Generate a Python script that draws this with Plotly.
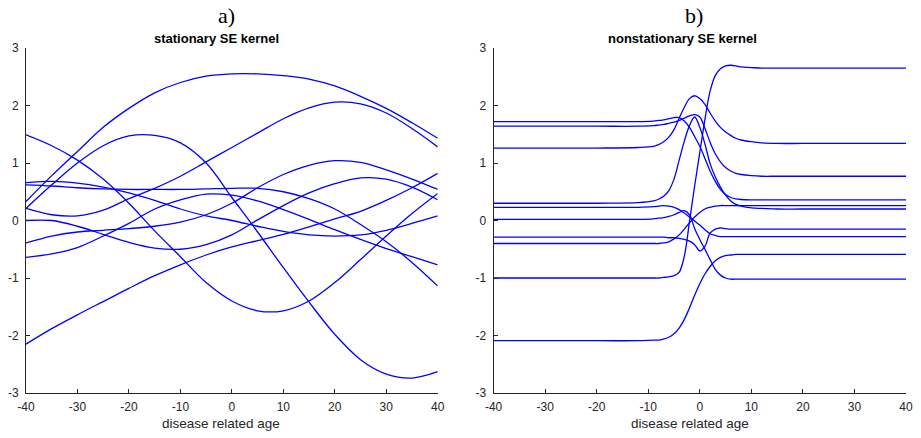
import plotly.graph_objects as go

# ---------------- data ----------------
x_left = [-40, -35, -30, -25, -20, -15, -10, -5, 0, 5, 10, 15, 20, 25, 30, 35, 40]
stationary_samples = [
    [0.33, 0.78, 1.2, 1.62, 1.95, 2.22, 2.4, 2.51, 2.55, 2.55, 2.52, 2.46, 2.34, 2.16, 1.95, 1.7, 1.43],
    [0.21, 0.62, 1.0, 1.3, 1.47, 1.48, 1.35, 1.0, 0.4, -0.2, -0.82, -1.42, -1.98, -2.42, -2.67, -2.74, -2.63],
    [0.21, 0.1, 0.08, 0.18, 0.38, 0.56, 0.77, 1.02, 1.27, 1.52, 1.77, 1.96, 2.06, 2.03, 1.87, 1.6, 1.28],
    [1.49, 1.3, 1.05, 0.72, 0.3, -0.18, -0.63, -1.08, -1.4, -1.57, -1.57, -1.4, -1.08, -0.68, -0.27, 0.12, 0.47],
    [0.62, 0.6, 0.57, 0.55, 0.54, 0.54, 0.54, 0.55, 0.56, 0.56, 0.5, 0.38, 0.2, -0.07, -0.37, -0.73, -1.14],
    [0.66, 0.68, 0.65, 0.58, 0.48, 0.35, 0.2, 0.08, 0.0, -0.1, -0.19, -0.25, -0.27, -0.25, -0.17, -0.05, 0.08],
    [0.0, 0.0, -0.1, -0.24, -0.38, -0.48, -0.5, -0.42, -0.25, 0.01, 0.26, 0.48, 0.64, 0.74, 0.72, 0.58, 0.36],
    [-0.39, -0.27, -0.2, -0.17, -0.14, -0.1, -0.03, 0.1, 0.3, 0.57, 0.8, 0.96, 1.04, 1.01, 0.88, 0.72, 0.54],
    [-0.64, -0.58, -0.47, -0.27, -0.05, 0.2, 0.36, 0.46, 0.44, 0.34, 0.19, 0.02, -0.16, -0.33, -0.49, -0.63, -0.77],
    [-2.15, -1.88, -1.64, -1.41, -1.18, -0.96, -0.77, -0.6, -0.46, -0.35, -0.24, -0.11, 0.03, 0.16, 0.35, 0.57, 0.82],
]

x_right = [-40, -20, -12, -9, -8, -7, -6, -5, -4, -3, -2, -1, 0, 1, 2, 3, 4, 5, 6, 7, 8, 10, 12, 15, 20, 40]
nonstationary_samples = [
    [1.72, 1.72, 1.72, 1.73, 1.74, 1.75, 1.77, 1.79, 1.79, 1.73, 1.62, 1.46, 1.29, 1.08, 0.86, 0.68, 0.54, 0.45, 0.4, 0.375, 0.365, 0.36, 0.36, 0.36, 0.36, 0.36],
    [1.64, 1.64, 1.64, 1.65, 1.66, 1.67, 1.69, 1.71, 1.74, 1.78, 1.82, 1.84, 1.8, 1.6, 1.36, 1.16, 1.02, 0.92, 0.86, 0.82, 0.8, 0.78, 0.77, 0.77, 0.77, 0.77],
    [1.26, 1.26, 1.27, 1.29, 1.32, 1.37, 1.45, 1.58, 1.78, 1.97, 2.12, 2.17, 2.12, 2.02, 1.87, 1.73, 1.62, 1.54, 1.48, 1.43, 1.4, 1.37, 1.35, 1.34, 1.34, 1.34],
    [0.30, 0.30, 0.31, 0.34, 0.37, 0.42, 0.52, 0.72, 1.05, 1.38, 1.65, 1.8, 1.62, 1.33, 0.99, 0.76, 0.58, 0.44, 0.34, 0.28, 0.25, 0.22, 0.21, 0.2, 0.2, 0.2],
    [0.23, 0.23, 0.23, 0.24, 0.25, 0.26, 0.25, 0.23, 0.19, 0.13, 0.06, -0.01, -0.08, -0.16, -0.23, -0.26, -0.28, -0.28, -0.28, -0.28, -0.28, -0.28, -0.28, -0.28, -0.28, -0.28],
    [0.02, 0.02, 0.02, 0.03, 0.04, 0.05, 0.07, 0.1, 0.14, 0.17, 0.1, -0.14, -0.33, -0.5, -0.68, -0.85, -0.95, -1.0, -1.02, -1.02, -1.02, -1.02, -1.02, -1.02, -1.02, -1.02],
    [-0.29, -0.29, -0.29, -0.29, -0.29, -0.29, -0.3, -0.3, -0.31, -0.33, -0.36, -0.42, -0.53, -0.45, -0.22, -0.15, -0.13, -0.14, -0.15, -0.15, -0.15, -0.15, -0.15, -0.15, -0.15, -0.15],
    [-0.40, -0.40, -0.40, -0.40, -0.40, -0.39, -0.37, -0.32, -0.25, -0.15, -0.04, 0.06, 0.14, 0.2, 0.23, 0.25, 0.26, 0.26, 0.26, 0.26, 0.26, 0.26, 0.26, 0.26, 0.26, 0.26],
    [-1.0, -1.0, -1.0, -1.0, -1.0, -0.99, -0.98, -0.96, -0.9, -0.62, -0.02, 0.6, 1.18, 1.76, 2.25, 2.52, 2.64, 2.69, 2.7, 2.69, 2.67, 2.66, 2.65, 2.65, 2.65, 2.65],
    [-2.09, -2.09, -2.09, -2.08, -2.08, -2.06, -2.03, -1.97, -1.87, -1.72, -1.52, -1.3, -1.1, -0.93, -0.8, -0.7, -0.64, -0.61, -0.6, -0.59, -0.59, -0.59, -0.59, -0.59, -0.59, -0.59],
]

x_ticks = [-40, -30, -20, -10, 0, 10, 20, 30, 40]
x_ticklabels = ["-40", "-30", "-20", "-10", "0", "10", "20", "30", "40"]
y_ticks = [-3, -2, -1, 0, 1, 2, 3]
y_ticklabels = ["-3", "-2", "-1", "0", "1", "2", "3"]

panel_letters = ["a)", "b)"]
panel_titles = ["stationary SE kernel", "nonstationary SE kernel"]
x_label = "disease related age"

# ---------------- figure ----------------
W, H = 921, 438
ML, MR, MT, MB = 26, 8, 48, 45
plot_w = W - ML - MR
plot_h = H - MT - MB

def px_x(p):
    return (p - ML) / plot_w

def px_y(p):
    return (H - MB - p) / plot_h

dom1 = [0.0, px_x(441)]
dom2 = [px_x(497.3), 1.0]

fig = go.Figure()
line_style = dict(color="#0000FF", width=1.3, shape="spline", smoothing=1.0)

for ys in stationary_samples:
    fig.add_trace(go.Scatter(x=x_left, y=ys, mode="lines", line=line_style,
                             xaxis="x", yaxis="y", showlegend=False, hoverinfo="skip"))
for ys in nonstationary_samples:
    fig.add_trace(go.Scatter(x=x_right, y=ys, mode="lines", line=line_style,
                             xaxis="x2", yaxis="y2", showlegend=False, hoverinfo="skip"))

tickfont = dict(family="Liberation Sans, Arial, sans-serif", size=12, color="#262626")
common_x = dict(range=[-40, 40], tickmode="array", tickvals=x_ticks, ticktext=x_ticklabels,
                ticks="inside", ticklen=4, tickwidth=1, tickcolor="#262626",
                showline=True, linecolor="#262626", linewidth=1, showgrid=False,
                zeroline=False, tickfont=tickfont, ticklabelstandoff=3, mirror=False)
common_y = dict(range=[-3, 3], tickmode="array", tickvals=y_ticks, ticktext=y_ticklabels,
                ticks="inside", ticklen=4, tickwidth=1, tickcolor="#262626",
                showline=True, linecolor="#262626", linewidth=1, showgrid=False,
                zeroline=False, tickfont=tickfont, ticklabelstandoff=4, mirror=False)

fig.update_layout(
    width=W, height=H,
    margin=dict(l=ML, r=MR, t=MT, b=MB, pad=0),
    paper_bgcolor="white", plot_bgcolor="white",
    xaxis=dict(domain=dom1, anchor="y", **common_x),
    yaxis=dict(domain=[0, 1], anchor="x", **common_y),
    xaxis2=dict(domain=dom2, anchor="y2", **common_x),
    yaxis2=dict(domain=[0, 1], anchor="x2", **common_y),
)

letter_pos = [228.5, 699]
title_pos = [218.5, 688]
xlabel_pos = [223, 695.5]
annotations = []
for i in range(2):
    annotations.append(dict(text=panel_letters[i], x=px_x(letter_pos[i]), y=px_y(16),
                            xref="paper", yref="paper", xanchor="center", yanchor="middle",
                            showarrow=False,
                            font=dict(family="Liberation Serif, Times New Roman, serif", size=22, color="#000000")))
    annotations.append(dict(text="<b>" + panel_titles[i] + "</b>", x=px_x(title_pos[i]), y=px_y(38),
                            xref="paper", yref="paper", xanchor="center", yanchor="middle",
                            showarrow=False,
                            font=dict(family="Liberation Sans, Arial, sans-serif", size=13, color="#000000")))
    annotations.append(dict(text=x_label, x=px_x(xlabel_pos[i]), y=px_y(423),
                            xref="paper", yref="paper", xanchor="center", yanchor="middle",
                            showarrow=False,
                            font=dict(family="Liberation Sans, Arial, sans-serif", size=13.5, color="#262626")))
fig.update_layout(annotations=annotations)

fig.write_html("out.html")
